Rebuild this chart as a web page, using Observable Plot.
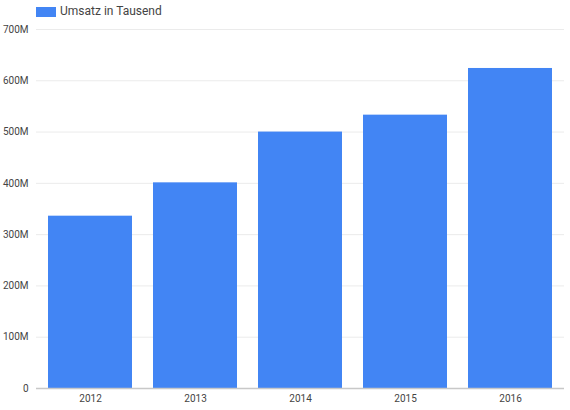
<!DOCTYPE html>
<html>
<head>
<meta charset="utf-8">
<script src="https://cdn.jsdelivr.net/npm/d3@7"></script>
<script src="https://cdn.jsdelivr.net/npm/@observablehq/plot@0.6"></script>
<style>
  body { margin: 0; background: #fff; font-family: Roboto, sans-serif; }
  #legend { height: 20px; position: relative; }
  #legend .sw { position: absolute; left: 36px; top: 7px; width: 20px; height: 10px; background: #4285F4; }
  #legend .lb { position: absolute; left: 60px; top: 4px; font-size: 12px; line-height: 14px; color: #444; }
</style>
</head>
<body>
<div id="legend"><span class="sw"></span><span class="lb">Umsatz in Tausend</span></div>
<div id="chart"></div>
<script>
const years = ["2012", "2013", "2014", "2015", "2016"];
const umsatz = [336e6, 401e6, 500e6, 533e6, 624e6];
const yTicks = [0, 100e6, 200e6, 300e6, 400e6, 500e6, 600e6, 700e6];

const data = years.map((y, i) => ({year: y, value: umsatz[i]}));

const chart = Plot.plot({
  width: 570,
  height: 390,
  marginTop: 9,
  marginBottom: 22,
  marginLeft: 36,
  marginRight: 6,
  style: {fontFamily: "Roboto, sans-serif", fontSize: "10px", color: "#444"},
  x: {domain: years, paddingInner: 0.2, paddingOuter: 0.1, label: null, tickSize: 0, tickPadding: 6},
  y: {domain: [0, 700e6], ticks: yTicks, label: null, tickSize: 0, tickPadding: 8,
      tickFormat: d => d === 0 ? "0" : (d / 1e6) + "M"},
  marks: [
    Plot.gridY(yTicks, {stroke: "#ebebeb", strokeOpacity: 1}),
    Plot.axisY({ticks: yTicks, tickSize: 0, tickPadding: 8, tickFormat: d => d === 0 ? "0" : (d / 1e6) + "M", label: null}),
    Plot.axisX({tickSize: 0, tickPadding: 6, label: null}),
    Plot.barY(data, {x: "year", y: "value", fill: "#4285F4"}),
    Plot.ruleY([0], {stroke: "#c8c8c8", strokeWidth: 1.5})
  ]
});
document.getElementById("chart").appendChild(chart);
</script>
</body>
</html>
